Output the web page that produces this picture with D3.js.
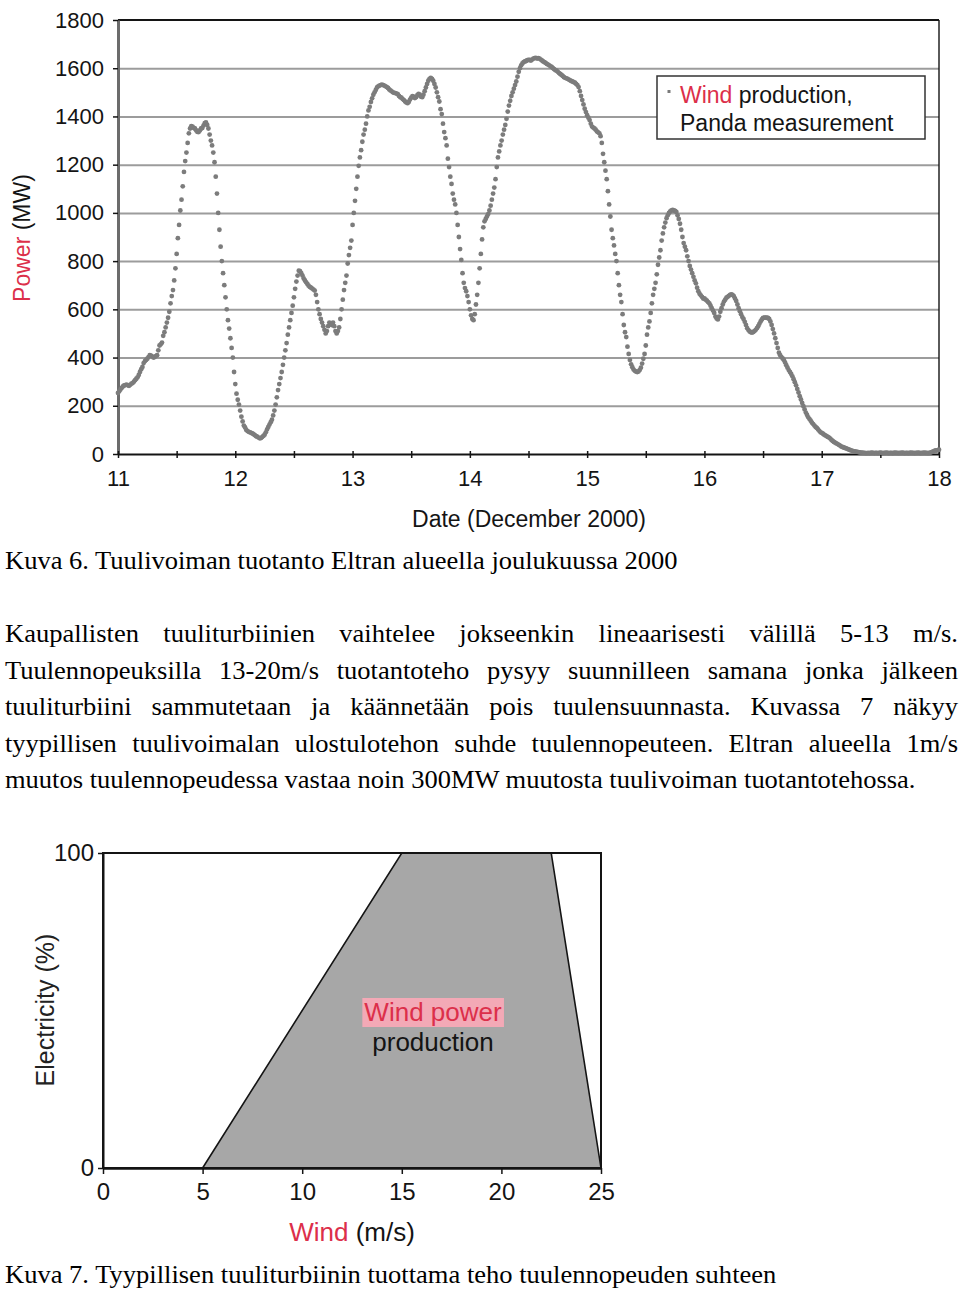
<!DOCTYPE html>
<html>
<head>
<meta charset="utf-8">
<script src="https://cdn.jsdelivr.net/npm/d3@7"></script>
<style>
  body { margin: 0; background: #fff; }
</style>
</head>
<body>
<div id="page"></div>
<script>
// Wind production, Panda measurement (MW), one value per 15 minutes, one array per day
const dec11 = [
  253, 260, 268, 274, 280, 284, 286, 288, 285, 283,
  287, 292, 294, 300, 306, 312, 318, 328, 340, 352,
  361, 377, 385, 390, 395, 402, 410, 408, 405, 400,
  402, 406, 410, 430, 450, 455, 462, 490, 505, 525,
  545, 565, 590, 625, 655, 680, 720, 770, 830, 895,
  950, 1010, 1055, 1110, 1170, 1215, 1250, 1290, 1330, 1350,
  1360, 1358, 1352, 1350, 1342, 1336, 1335, 1342, 1350, 1352,
  1362, 1372, 1375, 1365, 1350, 1325, 1300, 1280, 1250, 1210,
  1150, 1080, 1000, 930, 860, 800, 750, 700, 650, 600,
  555, 520, 480, 440, 400, 340
];
const dec12 = [
  290, 250, 225, 205, 180, 155, 135, 118, 110, 100,
  95, 92, 90, 88, 85, 82, 78, 74, 72, 68,
  65, 66, 70, 75, 80, 90, 102, 112, 122, 132,
  142, 160, 180, 205, 235, 265, 290, 315, 340, 370,
  400, 430, 460, 495, 525, 555, 585, 615, 650, 685,
  715, 740, 760, 758, 750, 740, 728, 720, 712, 705,
  698, 693, 690, 686, 682, 678, 660, 630, 600, 580,
  560, 545, 530, 515, 500, 510, 530, 545, 540, 535,
  545, 530, 510, 500, 510, 525, 560, 600, 640, 680,
  710, 740, 790, 825, 855, 885
];
const dec13 = [
  950, 1000, 1050, 1100, 1150, 1195, 1230, 1260, 1295, 1325,
  1345, 1370, 1400, 1425, 1440, 1460, 1475, 1490, 1500, 1510,
  1520, 1525, 1528, 1530, 1532, 1530, 1528, 1525, 1522, 1518,
  1512, 1508, 1504, 1500, 1498, 1497, 1495, 1492, 1485, 1480,
  1478, 1472, 1468, 1462, 1458, 1455, 1460, 1470, 1478, 1484,
  1482, 1476, 1480, 1488, 1494, 1490, 1482, 1480, 1490, 1505,
  1520, 1535, 1548, 1556, 1560, 1556, 1548, 1535, 1520, 1500,
  1480, 1462, 1430, 1410, 1370, 1335, 1310, 1280, 1225, 1190,
  1150, 1120, 1080, 1055, 1035, 1000, 950, 900, 850, 805,
  750, 710, 688, 675, 655, 630
];
const dec14 = [
  600, 575, 560, 555, 580, 620, 660, 710, 770, 830,
  890, 940, 965, 975, 985, 995, 1010, 1030, 1055, 1080,
  1105, 1140, 1190, 1230, 1255, 1280, 1300, 1325, 1345, 1365,
  1390, 1420, 1445, 1465, 1485, 1500, 1515, 1530, 1545, 1565,
  1585, 1600, 1612, 1620, 1625, 1628, 1630, 1633, 1635, 1634,
  1632, 1636, 1640, 1642, 1643, 1640, 1642, 1640, 1636, 1632,
  1628, 1625, 1622, 1618, 1615, 1612, 1608, 1605, 1600, 1596,
  1592, 1590, 1585, 1580, 1576, 1572, 1568, 1563, 1560, 1558,
  1556, 1553, 1550, 1547, 1545, 1542, 1540, 1535, 1530, 1522,
  1505, 1485, 1468, 1450, 1432, 1418
];
const dec15 = [
  1405, 1395, 1385, 1370, 1358, 1354, 1350, 1345, 1338, 1334,
  1330, 1318, 1290, 1245, 1210, 1175, 1140, 1090, 1035, 985,
  930, 895, 865, 830, 800, 750, 700, 660, 630, 580,
  535, 505, 485, 445, 415, 390, 372, 360, 350, 345,
  342, 340, 342, 348, 358, 375, 395, 415, 450, 495,
  525, 550, 585, 625, 660, 685, 710, 745, 785, 815,
  845, 885, 915, 940, 960, 978, 990, 1000, 1006, 1010,
  1012, 1010, 1008, 1004, 990, 975, 955, 930, 900, 875,
  860, 845, 820, 800, 780, 765, 750, 735, 720, 708,
  690, 675, 665, 658, 652, 645
];
const dec16 = [
  645, 640, 636, 630, 625, 615, 605, 595, 585, 570,
  562, 558, 570, 590, 605, 620, 632, 640, 648, 652,
  656, 660, 662, 660, 655, 645, 635, 620, 605, 592,
  580, 568, 560, 548, 535, 522, 514, 508, 505, 504,
  506, 510, 515, 522, 530, 540, 550, 558, 564, 566,
  566, 565, 564, 560, 550, 535, 518, 500, 480, 460,
  440, 420, 410, 402, 396, 390, 380, 368, 358, 348,
  340, 332, 322, 310, 298, 285, 270, 255, 240, 226,
  212, 198, 185, 172, 162, 152, 145, 138, 130, 124,
  118, 112, 108, 102, 96, 90
];
const dec17 = [
  88, 84, 80, 77, 74, 71, 68, 64, 58, 54,
  50, 47, 44, 41, 38, 35, 31, 29, 27, 25,
  23, 21, 19, 17, 15, 13, 12, 11, 10, 9,
  8, 7, 6, 6, 5, 5, 4, 4, 5, 4,
  5, 6, 5, 4, 5, 5, 4, 5, 6, 5,
  4, 5, 5, 6, 5, 4, 5, 5, 4, 5,
  6, 5, 5, 4, 5, 5, 6, 5, 4, 5,
  5, 4, 5, 6, 5, 5, 4, 5, 5, 6,
  5, 4, 5, 5, 6, 5, 5, 4, 5, 6,
  8, 10, 12, 15, 14, 16
];
const dec18 = [18];

const dayTicks = [11, 12, 13, 14, 15, 16, 17, 18];
const halfDayTicks = [11, 11.5, 12, 12.5, 13, 13.5, 14, 14.5, 15, 15.5, 16, 16.5, 17, 17.5, 18];
const powerTicks = [0, 200, 400, 600, 800, 1000, 1200, 1400, 1600, 1800];

// Kuva 7: typical turbine output against wind speed
const windSpeed = [5, 15, 22.5, 25];
const electricity = [0, 100, 100, 0];
const windTicks = [0, 5, 10, 15, 20, 25];
const elecTicks = [0, 100];

const caption6 = "Kuva 6. Tuulivoiman tuotanto Eltran alueella joulukuussa 2000";
const caption7 = "Kuva 7. Tyypillisen tuuliturbiinin tuottama teho tuulennopeuden suhteen";
const paragraph = [
  "Kaupallisten tuuliturbiinien vaihtelee jokseenkin lineaarisesti välillä 5-13 m/s.",
  "Tuulennopeuksilla 13-20m/s tuotantoteho pysyy suunnilleen samana jonka jälkeen",
  "tuuliturbiini sammutetaan ja käännetään pois tuulensuunnasta. Kuvassa 7 näkyy",
  "tyypillisen tuulivoimalan ulostulotehon suhde tuulennopeuteen. Eltran alueella 1m/s",
  "muutos tuulennopeudessa vastaa noin 300MW muutosta tuulivoiman tuotantotehossa."
];

const sans = "'Liberation Sans', Arial, Helvetica, sans-serif";
const serif = "'Liberation Serif', 'Times New Roman', serif";
const red = "#dc2f4a";
const ink = "#141414";

const svg = d3.select("#page").append("svg")
  .attr("width", 960)
  .attr("height", 1291);

// ---------- Kuva 6 ----------
const power = [].concat(dec11, dec12, dec13, dec14, dec15, dec16, dec17, dec18);
const points = power.map((v, i) => ({ t: 11 + i / 96, v: v }));

const x = d3.scaleLinear().domain([11, 18]).range([118, 939]);
const y = d3.scaleLinear().domain([0, 1800]).range([454, 20]);

const chart1 = svg.append("g").attr("font-family", sans);

chart1.append("g")
  .attr("transform", "translate(118,0)")
  .call(d3.axisLeft(y)
    .tickValues(powerTicks.filter((d) => d > 0 && d < 1800))
    .tickSize(-(x(18) - x(11)))
    .tickFormat(""))
  .call((g) => g.select(".domain").remove())
  .call((g) => g.selectAll("line").attr("stroke", "#9c9c9c").attr("stroke-width", 2));

// frame top and right
chart1.append("line")
  .attr("x1", x(11)).attr("x2", x(18))
  .attr("y1", y(1800)).attr("y2", y(1800))
  .attr("stroke", ink).attr("stroke-width", 2);
chart1.append("line")
  .attr("x1", x(18)).attr("x2", x(18))
  .attr("y1", y(1800)).attr("y2", y(0))
  .attr("stroke", ink).attr("stroke-width", 1.4);

const yAxis = chart1.append("g")
  .attr("transform", "translate(118,0)")
  .call(d3.axisLeft(y).tickValues(powerTicks).tickFormat(d3.format("d"))
    .tickSize(5).tickSizeOuter(0).tickPadding(9))
  .attr("font-family", sans)
  .attr("font-size", 22);
yAxis.select(".domain").attr("stroke", "#6c6c6c").attr("stroke-width", 3);
yAxis.selectAll(".tick line").attr("stroke", ink).attr("stroke-width", 1.5);
yAxis.selectAll("text").attr("fill", ink);

const xAxis = chart1.append("g")
  .attr("transform", "translate(0,454)")
  .call(d3.axisBottom(x)
    .tickValues(halfDayTicks)
    .tickSize(4)
    .tickSizeOuter(0)
    .tickPadding(12)
    .tickFormat((d) => (dayTicks.includes(d) ? d : "")))
  .attr("font-family", sans)
  .attr("font-size", 22);
xAxis.select(".domain").attr("stroke", ink).attr("stroke-width", 2);
xAxis.selectAll(".tick line").attr("y1", -3).attr("y2", 4).attr("stroke", ink).attr("stroke-width", 1.5);
xAxis.selectAll("text").attr("fill", ink);

chart1.append("g")
  .selectAll("circle")
  .data(points)
  .join("circle")
  .attr("cx", (d) => x(d.t))
  .attr("cy", (d) => y(d.v))
  .attr("r", 2.4)
  .attr("fill", "#7c7c7c");

const legend = chart1.append("g");
legend.append("rect")
  .attr("x", 657).attr("y", 76)
  .attr("width", 268).attr("height", 63)
  .attr("fill", "#fff")
  .attr("stroke", "#333").attr("stroke-width", 1.5);
legend.append("rect")
  .attr("x", 667.5).attr("y", 90)
  .attr("width", 3).attr("height", 3)
  .attr("fill", "#7a7a7a");
const leg1 = legend.append("text").attr("x", 680).attr("y", 103).attr("font-size", 23);
leg1.append("tspan").attr("fill", red).text("Wind");
leg1.append("tspan").attr("fill", ink).text(" production,");
legend.append("text")
  .attr("x", 680).attr("y", 131)
  .attr("font-size", 23)
  .attr("fill", ink)
  .text("Panda measurement");

const yTitle = chart1.append("text")
  .attr("transform", "translate(30,238) rotate(-90)")
  .attr("text-anchor", "middle")
  .attr("font-size", 23);
yTitle.append("tspan").attr("fill", red).text("Power");
yTitle.append("tspan").attr("fill", ink).text(" (MW)");

chart1.append("text")
  .attr("x", 529).attr("y", 527)
  .attr("text-anchor", "middle")
  .attr("font-size", 23)
  .attr("fill", ink)
  .text("Date (December 2000)");

// ---------- Kuva 7 ----------
const x2 = d3.scaleLinear().domain([0, 25]).range([103, 601]);
const y2 = d3.scaleLinear().domain([0, 100]).range([1168, 853]);
const chart2 = svg.append("g").attr("font-family", sans);

const curve = windSpeed.map((w, i) => ({ w: w, e: electricity[i] }));

chart2.append("path")
  .datum(curve)
  .attr("d", d3.area().x((d) => x2(d.w)).y0(y2(0)).y1((d) => y2(d.e)))
  .attr("fill", "#a7a7a7");
chart2.append("path")
  .datum(curve)
  .attr("d", d3.line().x((d) => x2(d.w)).y((d) => y2(d.e)))
  .attr("fill", "none")
  .attr("stroke", ink)
  .attr("stroke-width", 1.6);

chart2.append("rect")
  .attr("x", x2(0)).attr("y", y2(100))
  .attr("width", x2(25) - x2(0)).attr("height", y2(0) - y2(100))
  .attr("fill", "none")
  .attr("stroke", ink).attr("stroke-width", 2);

const yAxis2 = chart2.append("g")
  .attr("transform", `translate(${x2(0)},0)`)
  .call(d3.axisLeft(y2).tickValues(elecTicks).tickSize(5).tickSizeOuter(0).tickPadding(4))
  .attr("font-family", sans)
  .attr("font-size", 24);
yAxis2.select(".domain").attr("stroke", ink).attr("stroke-width", 2);
yAxis2.selectAll(".tick line").attr("stroke", ink).attr("stroke-width", 1.5);
yAxis2.selectAll("text").attr("fill", ink);

const xAxis2 = chart2.append("g")
  .attr("transform", `translate(0,${y2(0)})`)
  .call(d3.axisBottom(x2).tickValues(windTicks).tickSize(6).tickSizeOuter(0).tickPadding(9))
  .attr("font-family", sans)
  .attr("font-size", 24);
xAxis2.select(".domain").attr("stroke", ink).attr("stroke-width", 2.5);
xAxis2.selectAll(".tick line").attr("stroke", ink).attr("stroke-width", 1.5);
xAxis2.selectAll("text").attr("fill", ink);

chart2.append("text")
  .attr("transform", "translate(54,1010) rotate(-90)")
  .attr("text-anchor", "middle")
  .attr("font-size", 25)
  .attr("fill", "#222")
  .text("Electricity (%)");

const xTitle2 = chart2.append("text")
  .attr("x", 352).attr("y", 1241)
  .attr("text-anchor", "middle")
  .attr("font-size", 26);
xTitle2.append("tspan").attr("fill", red).text("Wind");
xTitle2.append("tspan").attr("fill", ink).text(" (m/s)");

const mark = chart2.append("g");
const markText = mark.append("text")
  .attr("x", 433).attr("y", 1021)
  .attr("text-anchor", "middle")
  .attr("font-size", 26)
  .attr("fill", red)
  .text("Wind power");
const mb = markText.node().getBBox();
mark.insert("rect", "text")
  .attr("x", mb.x - 2).attr("y", mb.y + 1)
  .attr("width", mb.width + 4).attr("height", mb.height - 1)
  .attr("fill", "#f3a9b6");
chart2.append("text")
  .attr("x", 433).attr("y", 1051)
  .attr("text-anchor", "middle")
  .attr("font-size", 26)
  .attr("fill", ink)
  .text("production");

// ---------- text in Times ----------
const textG = svg.append("g").attr("font-family", serif).attr("font-size", 25).attr("fill", "#000");

function plainLine(str, baseline, target) {
  const g = textG.append("g");
  const t = g.append("text").text(str);
  const w = t.node().getComputedTextLength();
  const f = target / w;
  g.attr("transform", `translate(5,${baseline}) scale(${f},1)`);
  return f;
}

function justifiedLine(str, baseline, target, f) {
  const g = textG.append("g").attr("transform", `translate(5,${baseline}) scale(${f},1)`);
  const words = str.split(" ");
  const nodes = words.map((wd) => g.append("text").text(wd));
  const widths = nodes.map((n) => n.node().getComputedTextLength());
  const gap = (target / f - d3.sum(widths)) / (words.length - 1);
  let pos = 0;
  nodes.forEach((n, i) => {
    n.attr("x", pos);
    pos += widths[i] + gap;
  });
}

plainLine(caption6, 569, 673);
const lineBase = [642, 679, 715, 752, 788];
const fBody = plainLine(paragraph[4], lineBase[4], 911);
paragraph.slice(0, 4).forEach((s, i) => justifiedLine(s, lineBase[i], 953, fBody));
plainLine(caption7, 1283, 772);
</script>
</body>
</html>
